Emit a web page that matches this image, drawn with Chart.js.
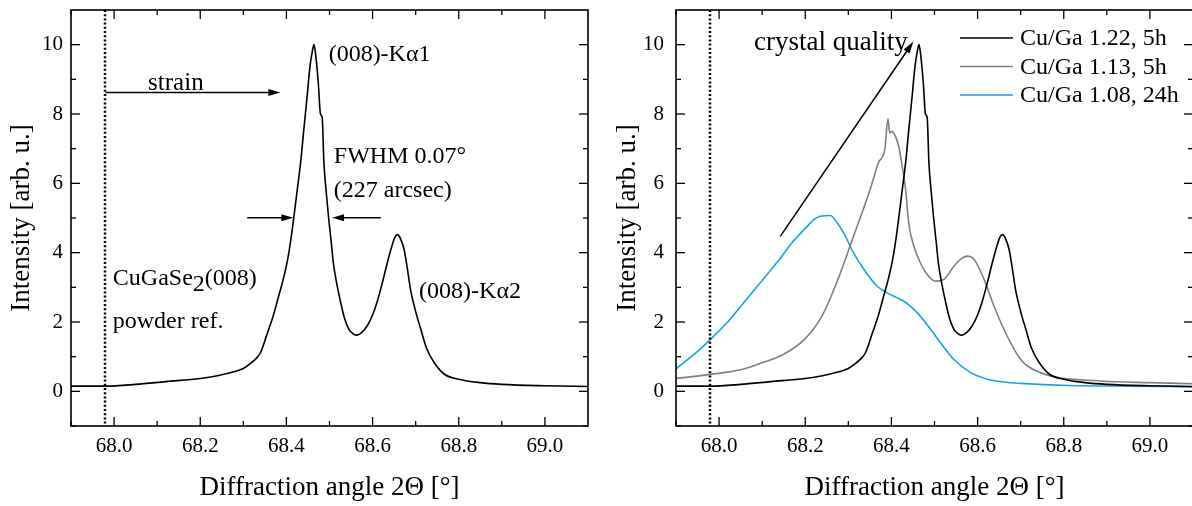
<!DOCTYPE html>
<html>
<head>
<meta charset="utf-8">
<script src="https://cdn.jsdelivr.net/npm/chart.js"></script>
<style>
  html, body { margin: 0; padding: 0; background: #fff; overflow: hidden; }
  #wrap { position: relative; width: 1192px; height: 506px; overflow: hidden; }
  canvas { position: absolute; top: 0; }
  #left { left: 0; }
  #right { left: 600px; }
</style>
</head>
<body>
<div id="wrap">
  <canvas id="left" width="600" height="506"></canvas>
  <canvas id="right" width="600" height="506"></canvas>
</div>
<script>
// 2theta scans around the CuGaSe2 (008) reflection
const angle122 = [67.90, 67.98, 68.05, 68.12, 68.20, 68.24, 68.28, 68.30, 68.316, 68.33,
  68.34, 68.355, 68.37, 68.382, 68.392, 68.402, 68.41, 68.417, 68.425, 68.433,
  68.44, 68.448, 68.455, 68.46, 68.464, 68.468, 68.474, 68.479, 68.483, 68.487,
  68.492, 68.498, 68.504, 68.509, 68.517, 68.526, 68.535, 68.545, 68.555, 68.564,
  68.575, 68.588, 68.60, 68.611, 68.622, 68.634, 68.645, 68.652, 68.658, 68.665,
  68.673, 68.68, 68.688, 68.70, 68.712, 68.725, 68.743, 68.766, 68.80, 68.85,
  68.90, 69.00, 69.10];
const int122 = [0.15, 0.15, 0.2, 0.28, 0.37, 0.45, 0.57, 0.66, 0.8, 0.95,
  1.12, 1.65, 2.2, 2.75, 3.2, 3.75, 4.35, 5.0, 5.8, 6.6,
  7.5, 8.5, 9.4, 9.8, 10.0, 9.7, 8.9, 8.0, 7.9, 6.6,
  5.8, 5.0, 4.3, 3.7, 3.1, 2.56, 2.1, 1.79, 1.66, 1.62,
  1.7, 1.9, 2.2, 2.6, 3.1, 3.7, 4.2, 4.45, 4.52, 4.4,
  4.1, 3.6, 2.94, 2.3, 1.79, 1.25, 0.83, 0.5, 0.35, 0.25,
  0.2, 0.16, 0.14];

const angle113 = [67.90, 67.98, 68.05, 68.09, 68.15, 68.20, 68.24, 68.275, 68.31, 68.35,
  68.37, 68.385, 68.392, 68.396, 68.401, 68.409, 68.417, 68.425, 68.433, 68.44,
  68.452, 68.467, 68.483, 68.502, 68.522, 68.545, 68.565, 68.576, 68.592, 68.615,
  68.638, 68.661, 68.685, 68.70, 68.716, 68.77, 68.886, 69.00, 69.10];
const int113 = [0.37, 0.49, 0.62, 0.78, 1.07, 1.52, 2.2, 3.2, 4.4, 5.8,
  6.6, 7.0, 7.86, 7.45, 7.5, 7.36, 7.07, 6.49, 5.82, 4.86,
  4.19, 3.71, 3.37, 3.18, 3.23, 3.61, 3.85, 3.9, 3.8, 3.23,
  2.46, 1.79, 1.21, 0.92, 0.73, 0.44, 0.3, 0.25, 0.22];

const angle108 = [67.90, 67.95, 67.98, 68.02, 68.05, 68.08, 68.11, 68.14, 68.17, 68.20,
  68.22, 68.235, 68.258, 68.274, 68.289, 68.312, 68.336, 68.367, 68.39, 68.421,
  68.444, 68.467, 68.491, 68.514, 68.545, 68.584, 68.623, 68.66, 68.70, 68.81,
  68.95, 69.10];
const int108 = [0.65, 1.15, 1.5, 2.0, 2.45, 2.9, 3.35, 3.8, 4.3, 4.7,
  4.95, 5.05, 5.07, 4.86, 4.57, 4.0, 3.52, 3.03, 2.84, 2.65,
  2.46, 2.17, 1.79, 1.4, 0.92, 0.54, 0.35, 0.27, 0.23, 0.17,
  0.15, 0.13];

const seriesNames = ['Cu/Ga 1.22, 5h', 'Cu/Ga 1.13, 5h', 'Cu/Ga 1.08, 24h'];
const xTicks = [68.0, 68.2, 68.4, 68.6, 68.8, 69.0];
const xMinor = [67.9, 68.1, 68.3, 68.5, 68.7, 68.9];
const yTicks = [0, 2, 4, 6, 8, 10];
const yMinor = [-1, 1, 3, 5, 7, 9];
const powderRef = 67.98; // CuGaSe2 (008) powder position

const SERIF = '"Liberation Serif", "Times New Roman", serif';
const BLACK = '#000000', GRAY = '#808080', BLUE = '#16a6dc';

function pts(xs, ys) {
  return xs.map((x, i) => ({ x: x, y: ys[i] }));
}

function line(ctx, x1, y1, x2, y2) {
  ctx.beginPath(); ctx.moveTo(x1, y1); ctx.lineTo(x2, y2); ctx.stroke();
}

function arrow(ctx, x1, y1, x2, y2) {
  const a = Math.atan2(y2 - y1, x2 - x1);
  const L = 12, W = 3.5;
  line(ctx, x1, y1, x2 - 6 * Math.cos(a), y2 - 6 * Math.sin(a));
  ctx.beginPath();
  ctx.moveTo(x2, y2);
  ctx.lineTo(x2 - L * Math.cos(a) + W * Math.sin(a), y2 - L * Math.sin(a) - W * Math.cos(a));
  ctx.lineTo(x2 - L * Math.cos(a) - W * Math.sin(a), y2 - L * Math.sin(a) + W * Math.cos(a));
  ctx.closePath();
  ctx.fill();
}

// frame, inward ticks, reference line, labels and arrows
const decorPlugin = {
  id: 'decor',
  afterDatasetsDraw(chart, args, opts) {
    const ctx = chart.ctx, a = chart.chartArea;
    const xs = chart.scales.x, ys = chart.scales.y;
    ctx.save();
    ctx.strokeStyle = '#000';
    ctx.fillStyle = '#000';

    // dotted powder reference
    ctx.lineWidth = 2.5;
    ctx.setLineDash([2, 2.2]);
    const rx = Math.round(xs.getPixelForValue(powderRef));
    line(ctx, rx, a.top, rx, a.bottom);
    ctx.setLineDash([]);

    // box
    ctx.lineWidth = 1.6;
    ctx.strokeRect(a.left, a.top, a.right - a.left, a.bottom - a.top);
    ctx.lineWidth = 1.3;
    xTicks.concat(xMinor).forEach(v => {
      const len = xTicks.includes(v) ? 9 : 5;
      const p = xs.getPixelForValue(v);
      line(ctx, p, a.bottom, p, a.bottom - len);
      line(ctx, p, a.top, p, a.top + len);
    });
    yTicks.concat(yMinor).forEach(v => {
      const len = yTicks.includes(v) ? 9 : 5;
      const p = ys.getPixelForValue(v);
      line(ctx, a.left, p, a.left + len, p);
      line(ctx, a.right, p, a.right - len, p);
    });

    // arrows
    ctx.lineWidth = 1.5;
    (opts.arrows || []).forEach(ar => {
      arrow(ctx, xs.getPixelForValue(ar[0]), ys.getPixelForValue(ar[1]),
        xs.getPixelForValue(ar[2]), ys.getPixelForValue(ar[3]));
    });

    // text labels, parts = [text, drop, scale]
    ctx.textBaseline = 'alphabetic';
    ctx.textAlign = 'left';
    (opts.notes || []).forEach(n => {
      let px = xs.getPixelForValue(n.x);
      const py = ys.getPixelForValue(n.y);
      n.parts.forEach(p => {
        ctx.font = Math.round((n.size || 24) * (p[2] || 1)) + 'px ' + SERIF;
        ctx.fillText(p[0], px, py + (p[1] || 0));
        px += ctx.measureText(p[0]).width;
      });
    });

    // legend
    if (opts.legend) {
      ctx.font = '24px ' + SERIF;
      ctx.textBaseline = 'middle';
      chart.data.datasets.forEach((ds, i) => {
        const y = 38 + i * 28.5;
        ctx.strokeStyle = ds.borderColor;
        ctx.lineWidth = 1.6;
        line(ctx, 360, y, 413, y);
        ctx.fillText(ds.label, 420, y + 1);
      });
    }
    ctx.restore();
  }
};

function makeChart(id, datasets, cfg) {
  return new Chart(document.getElementById(id), {
    type: 'line',
    data: { datasets: datasets },
    plugins: [decorPlugin],
    options: {
      responsive: false,
      animation: false,
      devicePixelRatio: 1,
      layout: { padding: { top: 10, right: cfg.padRight, left: 0, bottom: 0 } },
      elements: { point: { radius: 0 }, line: { borderWidth: 1.6, cubicInterpolationMode: 'monotone' } },
      plugins: {
        legend: { display: false },
        tooltip: { enabled: false },
        decor: { notes: cfg.notes, arrows: cfg.arrows, legend: cfg.legend }
      },
      scales: {
        x: {
          type: 'linear', min: 67.9, max: 69.1,
          grid: { display: false, drawTicks: false },
          border: { display: false },
          afterBuildTicks: s => { s.ticks = xTicks.map(v => ({ value: v })); },
          afterFit: s => { s.height = 80; s.paddingLeft = 0; s.paddingRight = 0; },
          ticks: {
            padding: 8, color: '#000', maxRotation: 0,
            font: { family: SERIF, size: 21 },
            callback: v => v.toFixed(1)
          },
          title: {
            display: true, text: 'Diffraction angle 2Θ [°]', color: '#000',
            font: { family: SERIF, size: 27 }, padding: { top: 0, bottom: 2 }
          }
        },
        y: {
          type: 'linear', min: -1, max: 11,
          grid: { display: false, drawTicks: false },
          border: { display: false },
          afterBuildTicks: s => { s.ticks = yTicks.map(v => ({ value: v })); },
          afterFit: s => { s.width = cfg.yWidth; s.paddingTop = 0; s.paddingBottom = 0; },
          ticks: {
            padding: cfg.tickPad, color: '#000',
            font: { family: SERIF, size: 21 },
            callback: v => String(v)
          },
          title: {
            display: true, text: 'Intensity [arb. u.]', color: '#000',
            font: { family: SERIF, size: 27 }, padding: { top: cfg.titlePad, bottom: 0 }
          }
        }
      }
    }
  });
}

// single sample with the annotated peak
makeChart('left', [
  { label: seriesNames[0], data: pts(angle122, int122), borderColor: BLACK }
], {
  padRight: 12, yWidth: 71, tickPad: 8, titlePad: 6, legend: false,
  arrows: [
    [powderRef, 8.62, 68.386, 8.62],
    [68.309, 5.01, 68.416, 5.01],
    [68.619, 5.01, 68.506, 5.01]
  ],
  notes: [
    { x: 68.079, y: 8.7, size: 25, parts: [['strain']] },
    { x: 68.498, y: 9.54, parts: [['(008)-Kα1']] },
    { x: 68.51, y: 6.6, parts: [['FWHM 0.07°']] },
    { x: 68.51, y: 5.62, parts: [['(227 arcsec)']] },
    { x: 68.708, y: 2.7, parts: [['(008)-Kα2']] },
    { x: 67.997, y: 3.08, parts: [['CuGaSe'], ['2', 6, 1], ['(008)']] },
    { x: 67.997, y: 1.84, parts: [['powder ref.']] }
  ]
});

// comparison of the three growth runs
makeChart('right', [
  { label: seriesNames[0], data: pts(angle122, int122), borderColor: BLACK },
  { label: seriesNames[1], data: pts(angle113, int113), borderColor: GRAY },
  { label: seriesNames[2], data: pts(angle108, int108), borderColor: BLUE }
], {
  padRight: 7, yWidth: 76, tickPad: 12, titlePad: 12, legend: true,
  arrows: [[68.142, 4.47, 68.451, 10.09]],
  notes: [{ x: 68.081, y: 9.86, size: 27, parts: [['crystal quality']] }]
});
</script>
</body>
</html>
